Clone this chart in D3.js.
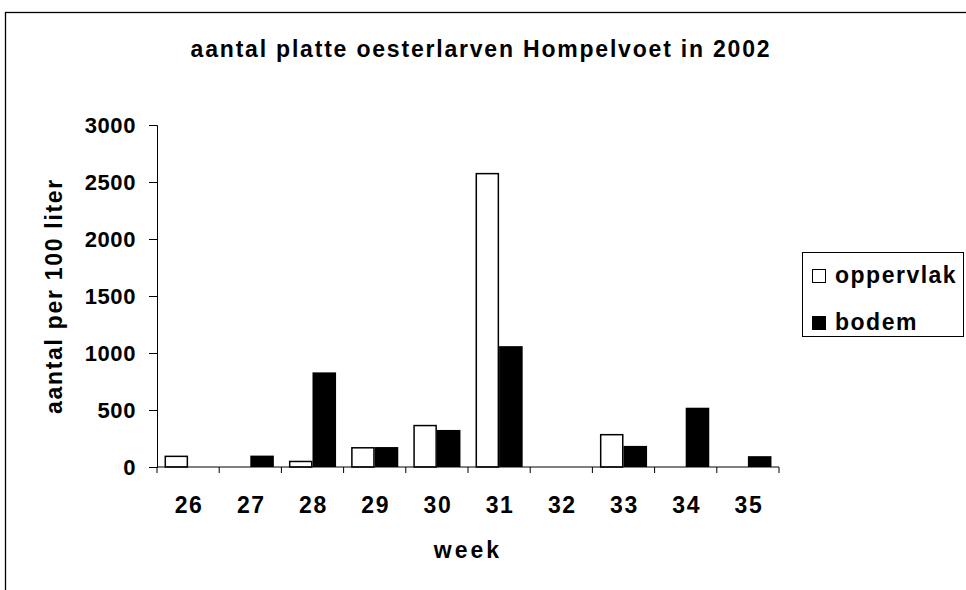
<!DOCTYPE html>
<html lang="nl">
<head>
<meta charset="UTF-8">
<title>aantal platte oesterlarven Hompelvoet in 2002</title>
<script src="https://d3js.org/d3.v7.min.js"></script>
<style>
  body { margin: 0; background: #fff; }
  text { font-family: "Liberation Sans", Arial, sans-serif; font-weight: bold; fill: #000; }
</style>
</head>
<body>
<div id="chart"></div>
<script>
// Data
const weeks = ["26", "27", "28", "29", "30", "31", "32", "33", "34", "35"];
const oppervlak = [100, 0, 55, 175, 370, 2580, 0, 290, 0, 0];
const bodem = [0, 100, 830, 175, 325, 1060, 0, 185, 520, 95];
const seriesNames = ["oppervlak", "bodem"];
const yTicks = [0, 500, 1000, 1500, 2000, 2500, 3000];

const width = 966, height = 590;
const plot = { left: 157, right: 779, top: 125, bottom: 467 };

const svg = d3.select("#chart").append("svg")
  .attr("width", width).attr("height", height);

// outer chart frame (cut off at right and bottom)
svg.append("rect")
  .attr("x", 5.5).attr("y", 12.5)
  .attr("width", 1000).attr("height", 1000)
  .attr("fill", "none").attr("stroke", "#000").attr("stroke-width", 1.3);

// scales
const x = d3.scaleBand().domain(weeks).range([plot.left, plot.right]).paddingInner(0).paddingOuter(0);
const xSub = d3.scaleBand().domain(seriesNames).range([0, x.bandwidth()]).paddingInner(0).paddingOuter(0.32);
const y = d3.scaleLinear().domain([0, 3000]).range([plot.bottom, plot.top]);

const rows = weeks.map((w, i) => ({ week: w, oppervlak: oppervlak[i], bodem: bodem[i] }));

// bars
const groups = svg.selectAll(".grp").data(rows).join("g")
  .attr("transform", d => `translate(${x(d.week)},0)`);

groups.selectAll("rect")
  .data(d => seriesNames.map(k => ({ key: k, value: d[k] })).filter(v => v.value > 0))
  .join("rect")
  .attr("x", d => xSub(d.key) + (d.key === "oppervlak" ? 0.75 : 0))
  .attr("y", d => y(d.value) + (d.key === "oppervlak" ? 0.75 : 0))
  .attr("width", d => xSub.bandwidth() - (d.key === "oppervlak" ? 1.5 : 0))
  .attr("height", d => plot.bottom - y(d.value) - (d.key === "oppervlak" ? 0.75 : 0))
  .attr("fill", d => d.key === "oppervlak" ? "#fff" : "#000")
  .attr("stroke", d => d.key === "oppervlak" ? "#000" : "none")
  .attr("stroke-width", 1.5);

// y axis
const yAxis = svg.append("g")
  .attr("transform", `translate(${plot.left},0)`)
  .call(d3.axisLeft(y).tickValues(yTicks).tickSize(8).tickPadding(13).tickFormat(d3.format("d")));
yAxis.selectAll("text")
  .style("font-size", "22px")
  .style("letter-spacing", "0.6px")
  .attr("dy", "0.36em");

// x axis: ticks at category boundaries
const xAxis = svg.append("g").attr("transform", `translate(0,${plot.bottom})`);
xAxis.append("line")
  .attr("x1", plot.left).attr("x2", plot.right)
  .attr("stroke", "#000");
xAxis.selectAll(".xt").data(weeks.concat(["end"])).join("line")
  .attr("x1", (d, i) => i < weeks.length ? x(d) : plot.right)
  .attr("x2", (d, i) => i < weeks.length ? x(d) : plot.right)
  .attr("y1", 0).attr("y2", 6).attr("stroke", "#000");
xAxis.selectAll(".xl").data(weeks).join("text")
  .attr("x", d => x(d) + x.bandwidth() / 2 + 1)
  .attr("y", 46)
  .attr("text-anchor", "middle")
  .style("font-size", "23px")
  .style("letter-spacing", "1.6px")
  .text(d => d);

svg.selectAll(".domain, .tick line").attr("stroke", "#000");

// titles
svg.append("text")
  .attr("x", 481).attr("y", 57)
  .attr("text-anchor", "middle")
  .style("font-size", "23px")
  .style("letter-spacing", "1.8px")
  .text("aantal platte oesterlarven Hompelvoet in 2002");

svg.append("text")
  .attr("x", 468).attr("y", 558)
  .attr("text-anchor", "middle")
  .style("font-size", "23px")
  .style("letter-spacing", "3px")
  .text("week");

svg.append("text")
  .attr("transform", `translate(62,${(plot.top + plot.bottom) / 2}) rotate(-90)`)
  .attr("text-anchor", "middle")
  .style("font-size", "23px")
  .style("letter-spacing", "1.7px")
  .text("aantal per 100 liter");

// legend
const legend = svg.append("g").attr("transform", "translate(802,252)");
legend.append("rect")
  .attr("x", 0.5).attr("y", 0.5).attr("width", 161).attr("height", 84)
  .attr("fill", "#fff").attr("stroke", "#000");
const li = legend.selectAll(".li").data(seriesNames).join("g")
  .attr("transform", (d, i) => `translate(10,${31 + i * 47})`);
li.append("rect")
  .attr("x", 0.5).attr("y", -13.5).attr("width", 13).attr("height", 13)
  .attr("fill", d => d === "oppervlak" ? "#fff" : "#000")
  .attr("stroke", "#000");
li.append("text")
  .attr("x", 23).attr("y", 0)
  .style("font-size", "23px")
  .style("letter-spacing", "1.5px")
  .text(d => d);
</script>
</body>
</html>
